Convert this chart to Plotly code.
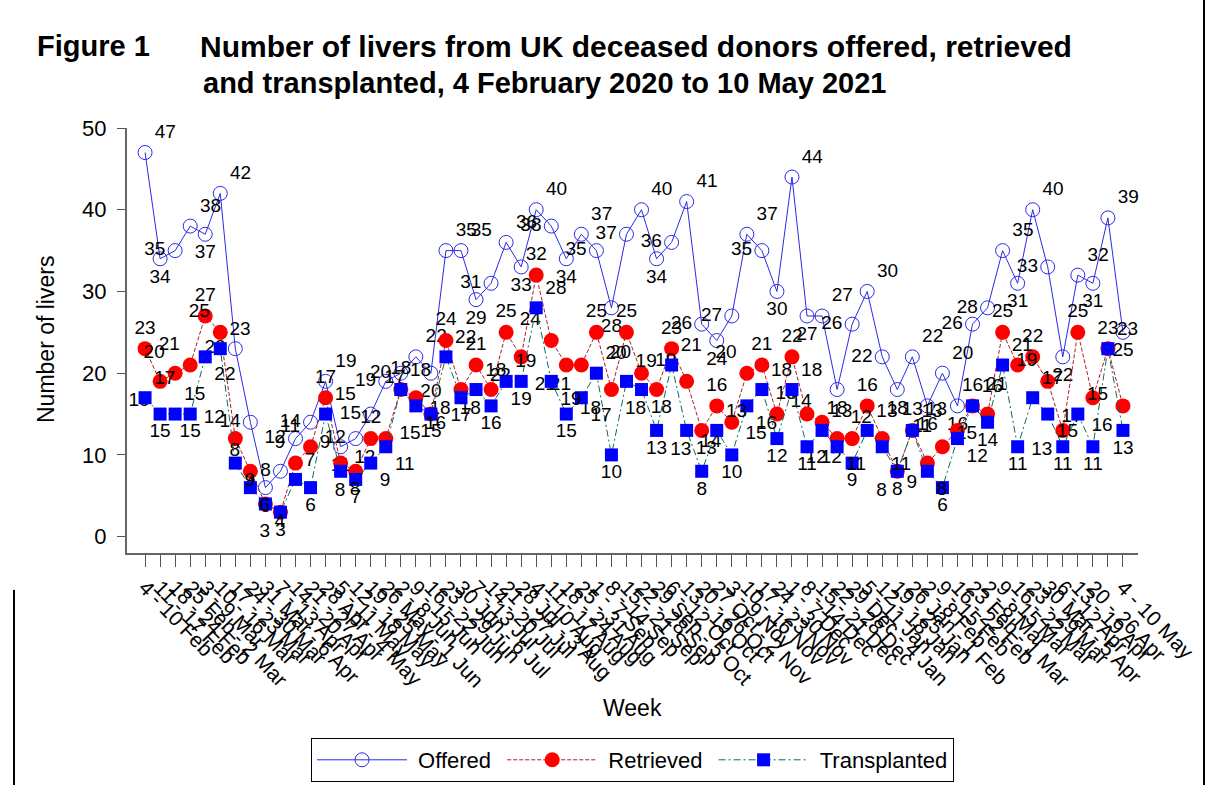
import plotly.graph_objects as go

# ---------------- data ----------------
week_labels = [
    "4 - 10 Feb", "11 - 17 Feb", "18 - 24 Feb", "25 Feb - 2 Mar", "3 - 9 Mar", "10 - 16 Mar",
    "17 - 23 Mar", "24 - 30 Mar", "31 Mar - 6 Apr", "7 - 13 Apr", "14 - 20 Apr", "21 - 27 Apr",
    "28 Apr - 4 May", "5 - 11 May", "12 - 18 May", "19 - 25 May", "26 May - 1 Jun", "2 - 8 Jun",
    "9 - 15 Jun", "16 - 22 Jun", "23 - 29 Jun", "30 Jun - 6 Jul", "7 - 13 Jul", "14 - 20 Jul",
    "21 - 27 Jul", "28 Jul - 3 Aug", "4 - 10 Aug", "11 - 17 Aug", "18 - 24 Aug", "25 - 31 Aug",
    "1 - 7 Sep", "8 - 14 Sep", "15 - 21 Sep", "22 - 28 Sep", "29 Sep - 5 Oct", "6 - 12 Oct",
    "13 - 19 Oct", "20 - 26 Oct", "27 Oct - 2 Nov", "3 - 9 Nov", "10 - 16 Nov", "17 - 23 Nov",
    "24 - 30 Nov", "1 - 7 Dec", "8 - 14 Dec", "15 - 21 Dec", "22 - 28 Dec", "29 Dec - 4 Jan",
    "5 - 11 Jan", "12 - 18 Jan", "19 - 25 Jan", "26 Jan - 1 Feb", "2 - 8 Feb", "9 - 15 Feb",
    "16 - 22 Feb", "23 Feb - 1 Mar", "2 - 8 Mar", "9 - 15 Mar", "16 - 22 Mar", "23 - 29 Mar",
    "30 Mar - 5 Apr", "6 - 12 Apr", "13 - 19 Apr", "20 - 26 Apr", "27 Apr - 3 May", "4 - 10 May",
]

offered = [47, 34, 35, 38, 37, 42, 23, 14, 6, 8,
           12, 14, 19, 11, 12, 15, 19, 20, 22, 20,
           35, 35, 29, 31, 36, 33, 40, 38, 34, 37,
           35, 28, 37, 40, 34, 36, 41, 26, 24, 27,
           37, 35, 30, 44, 27, 27, 18, 26, 30, 22,
           18, 22, 16, 20, 16, 26, 28, 35, 31, 40,
           33, 22, 32, 31, 39, 25]

retrieved = [23, 19, 20, 21, 27, 25, 12, 8, 4, 3,
             9, 11, 17, 9, 8, 12, 12, 18, 17, 15,
             24, 18, 21, 18, 25, 22, 32, 24, 21, 21,
             25, 18, 25, 20, 18, 23, 19, 13, 16, 14,
             20, 21, 15, 22, 15, 14, 12, 12, 16, 12,
             8, 13, 9, 11, 13, 16, 15, 25, 21, 22,
             19, 13, 25, 17, 23, 16]

transplanted = [17, 15, 15, 15, 22, 23, 9, 6, 4, 3,
                7, 6, 15, 8, 7, 9, 11, 18, 16, 15,
                22, 17, 18, 16, 19, 19, 28, 19, 15, 17,
                20, 10, 19, 18, 13, 21, 13, 8, 13, 10,
                16, 18, 12, 18, 11, 13, 11, 9, 13, 11,
                8, 13, 8, 6, 12, 16, 14, 21, 11, 17,
                15, 11, 15, 11, 23, 13]

x = list(range(len(week_labels)))

# ---------------- layout geometry (pixels) ----------------
W, H = 1208, 785
L, R, T, B = 127, 1138, 128, 553


def px2x(px):
    return (px - L) / (R - L)


def px2y(py):
    return (B - py) / (B - T)


FONT = "Liberation Sans, Arial, sans-serif"
NB = "\u00a0"


def label_positions(vals, peak, trough, mid):
    out = []
    n = len(vals)
    for i, v in enumerate(vals):
        nb = [vals[j] for j in (i - 1, i + 1) if 0 <= j < n]
        if v >= max(nb):
            out.append(peak)
        elif v <= min(nb):
            out.append(trough)
        else:
            out.append(mid)
    return out


fig = go.Figure()

fig.add_trace(go.Scatter(
    x=x, y=offered, name=NB + "Offered" + NB, mode="lines+markers+text",
    line=dict(color="#2a2ae6", width=1),
    marker=dict(symbol="circle-open", size=14, color="#2a2ae6", line=dict(width=1)),
    text=[str(v) for v in offered],
    textposition=label_positions(offered, "top right", "bottom center", "middle left"),
    textfont=dict(family=FONT, size=19, color="black"),
    cliponaxis=False,
))

fig.add_trace(go.Scatter(
    x=x, y=retrieved, name=NB + "Retrieved" + NB, mode="lines+markers+text",
    line=dict(color="#b01a2a", width=1, dash="4px,2px"),
    marker=dict(symbol="circle", size=15, color="#ff0000"),
    text=[str(v) for v in retrieved],
    textposition=label_positions(retrieved, "top center", "bottom left", "top left"),
    textfont=dict(family=FONT, size=19, color="black"),
    cliponaxis=False,
))

fig.add_trace(go.Scatter(
    x=x, y=transplanted, name=NB + "Transplanted", mode="lines+markers+text",
    line=dict(color="#0a6a5a", width=1, dash="7px,3px,2px,3px"),
    marker=dict(symbol="square", size=13, color="#0000ff"),
    text=[str(v) for v in transplanted],
    textposition=label_positions(transplanted, "top right", "bottom center", "bottom right"),
    textfont=dict(family=FONT, size=19, color="black"),
    cliponaxis=False,
))

fig.update_layout(
    width=W, height=H,
    margin=dict(l=L, r=W - R, t=T, b=H - B, pad=0, autoexpand=False),
    paper_bgcolor="white", plot_bgcolor="white",
    font=dict(family=FONT, color="black"),
    showlegend=True,
    legend=dict(
        orientation="h", x=0.5, xanchor="center", y=px2y(738), yanchor="top",
        bordercolor="black", borderwidth=1, bgcolor="white",
        font=dict(family=FONT, size=22, color="black"),
        itemwidth=90, tracegroupgap=0,
    ),
    xaxis=dict(
        range=[-1.2, 66.0], tickmode="array", tickvals=x, ticktext=week_labels,
        tickangle=46, tickfont=dict(family=FONT, size=21, color="black"),
        ticks="outside", ticklen=12, tickcolor="#555555",
        showline=True, linecolor="#666666", linewidth=2,
        showgrid=False, zeroline=False, automargin=False,
    ),
    yaxis=dict(
        range=[-2.0, 50], tickvals=[0, 10, 20, 30, 40, 50],
        tickfont=dict(family=FONT, size=22, color="black"),
        ticks="outside", ticklen=8, tickcolor="#555555", ticklabelstandoff=6,
        showline=True, linecolor="#666666", linewidth=2,
        showgrid=False, zeroline=False, automargin=False,
    ),
)

annotations = [
    dict(text="<b>Figure 1</b>", x=px2x(35), y=px2y(46), xanchor="left", yanchor="middle",
         font=dict(family=FONT, size=29, color="black")),
    dict(text="<b>Number of livers from UK deceased donors offered, retrieved</b>",
         x=px2x(198), y=px2y(46), xanchor="left", yanchor="middle",
         font=dict(family=FONT, size=30, color="black")),
    dict(text="<b>and transplanted, 4 February 2020 to 10 May 2021</b>",
         x=px2x(201), y=px2y(83), xanchor="left", yanchor="middle",
         font=dict(family=FONT, size=29, color="black")),
    dict(text="Number of livers", x=px2x(46), y=px2y(340), textangle=-90,
         xanchor="center", yanchor="middle",
         font=dict(family=FONT, size=23, color="black")),
    dict(text="Week", x=px2x(632), y=px2y(708), xanchor="center", yanchor="middle",
         font=dict(family=FONT, size=23, color="black")),
]
for a in annotations:
    a.update(xref="paper", yref="paper", showarrow=False)
fig.update_layout(annotations=annotations)

# page frame lines visible in the reference
fig.add_shape(type="line", xref="paper", yref="paper",
              x0=px2x(1204), x1=px2x(1204), y0=px2y(0), y1=px2y(785),
              line=dict(color="black", width=2))
fig.add_shape(type="line", xref="paper", yref="paper",
              x0=px2x(14), x1=px2x(14), y0=px2y(590), y1=px2y(785),
              line=dict(color="black", width=2))

fig.write_html(
    "out.html",
    config={"displayModeBar": False},
    post_script=("document.body.style.margin='0px';document.body.style.padding='0px';"
                 "document.body.style.overflow='hidden';"),
)
